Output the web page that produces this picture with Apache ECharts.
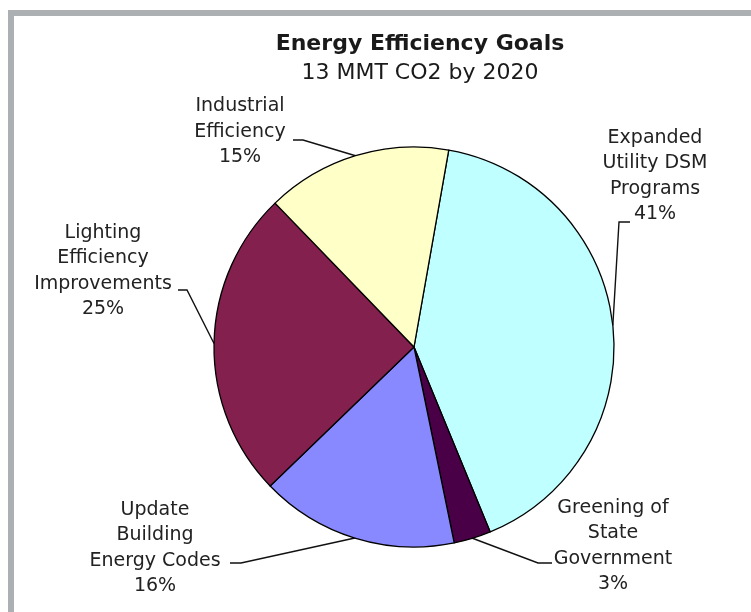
<!DOCTYPE html>
<html>
<head>
<meta charset="utf-8">
<title>Energy Efficiency Goals</title>
<script src="https://cdn.jsdelivr.net/npm/echarts@6/dist/echarts.min.js"></script>
<style>
  html, body { margin: 0; padding: 0; background: #fff; }
  #chart { width: 751px; height: 612px; }
</style>
</head>
<body>
<div id="chart"></div>
<script>
// categories, clockwise from just right of 12 o'clock
const categories = [
  'Expanded\nUtility DSM\nPrograms',
  'Greening of\nState\nGovernment',
  'Update\nBuilding\nEnergy Codes',
  'Lighting\nEfficiency\nImprovements',
  'Industrial\nEfficiency'
]
const shares = [41, 3, 16, 25, 15]
const colors = ['#BFFFFF', '#4A0046', '#8888FF', '#84204E', '#FFFFC8']

// label centre, leader line end at the text, bend point
const labelSpots = [
  [655, 176, 630, 222, 619, 222],
  [613, 546, 552, 563, 538, 563],
  [155, 548, 230, 563, 241, 563],
  [103, 271, 178, 290, 187, 290],
  [240, 132, 293, 140, 303, 140]
]

const chart = echarts.init(document.getElementById('chart'))

chart.setOption({
  backgroundColor: '#fff',
  animation: false,
  graphic: [
    { type: 'rect', shape: { x: 8, y: 10, width: 760, height: 620 }, style: { fill: '#ACB0B3' }, z: -10 },
    { type: 'rect', shape: { x: 14, y: 16, width: 760, height: 620 }, style: { fill: '#fff' }, z: -9 }
  ],
  title: {
    text: 'Energy Efficiency Goals',
    subtext: '13 MMT CO2 by 2020',
    left: 415,
    top: 28,
    textAlign: 'center',
    itemGap: 7,
    textStyle: {
      fontFamily: 'DejaVu Sans',
      fontSize: 22,
      fontWeight: 'bold',
      color: '#1a1a1a'
    },
    subtextStyle: {
      fontFamily: 'DejaVu Sans',
      fontSize: 22,
      color: '#1a1a1a'
    }
  },
  series: [{
    type: 'pie',
    center: [414, 347],
    radius: [0, 200],
    startAngle: 80,
    clockwise: true,
    silent: true,
    emphasis: { disabled: true },
    itemStyle: { borderColor: '#000', borderWidth: 1.3 },
    label: {
      show: true,
      position: 'outside',
      overflow: 'none',
      fontFamily: 'DejaVu Sans',
      fontSize: 19,
      lineHeight: 25.5,
      color: '#222',
      align: 'center',
      formatter: p => p.name + '\n' + Math.round(p.percent) + '%'
    },
    labelLine: {
      show: true,
      lineStyle: { color: '#111', width: 1.4 }
    },
    labelLayout: function (params) {
      const s = labelSpots[params.dataIndex]
      const start = params.labelLinePoints[0].slice()
      return {
        x: s[0],
        y: s[1],
        align: 'center',
        verticalAlign: 'middle',
        labelLinePoints: [start, [s[4], s[5]], [s[2], s[3]]]
      }
    },
    data: categories.map((name, i) => ({
      name: name,
      value: shares[i],
      itemStyle: { color: colors[i] }
    }))
  }]
})
</script>
</body>
</html>
